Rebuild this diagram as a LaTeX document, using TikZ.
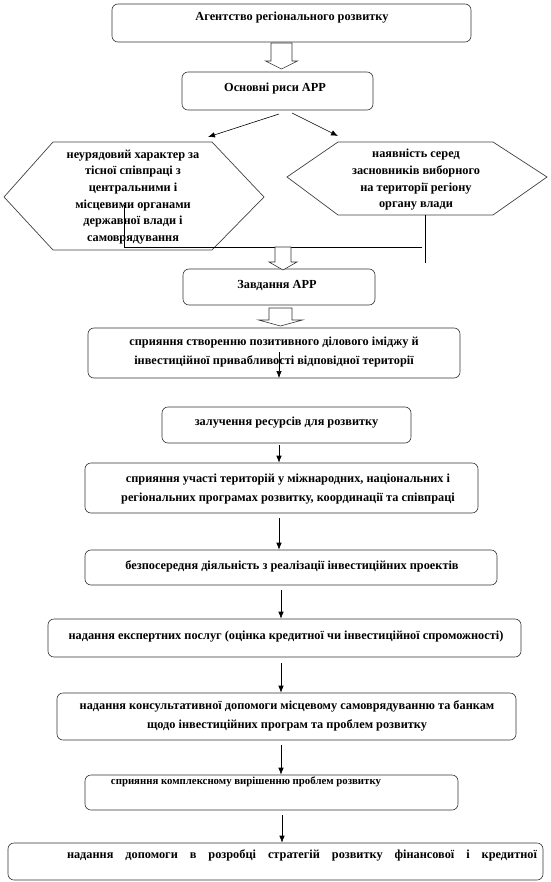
\documentclass[tikz,border=0pt]{standalone}
\usepackage{fontspec}
\setmainfont{Liberation Serif}
\usetikzlibrary{arrows.meta,calc}
\newcommand{\blockarr}[6]{% cx, ytop, yhead, ytip, shaft half, head half
  \draw[hollow] ({#1-#5},#2) -- ({#1-#5},#3) -- ({#1-#6},#3) -- (#1,#4) -- ({#1+#6},#3) -- ({#1+#5},#3) -- ({#1+#5},#2) -- cycle;}
\begin{document}
\begin{tikzpicture}[x=1pt,y=-1pt,
  box/.style={draw=black!80, line width=0.6pt, rounded corners=6pt, inner sep=0pt},
  hexs/.style={draw=black!75, line width=0.7pt},
  txt/.style={font=\fontsize{12.3}{18.5}\selectfont\bfseries, align=center, inner sep=0pt},
  htxt/.style={font=\fontsize{12.3}{16.7}\selectfont\bfseries, align=center, inner sep=0pt},
  hollow/.style={draw=black!80, line width=0.6pt, fill=white},
  arr/.style={-{Latex[length=7pt,width=5.5pt]}, line width=0.6pt},
  conn/.style={line width=0.6pt}]
\useasboundingbox (0,0) rectangle (550,882);

% boxes
\node[box, minimum width=359pt, minimum height=38pt] (b1) at (291.5,23) {};
\node[txt] (t1) at (292,18) {Агентство регіонального розвитку};
\node[box, minimum width=191pt, minimum height=38pt] (b2) at (277.5,91) {};
\node[txt] (t2) at (275,89) {Основні риси АРР};
\node[box, minimum width=192pt, minimum height=36pt] (b5) at (279,287) {};
\node[txt] (t5) at (277,285) {Завдання АРР};
\node[box, minimum width=372pt, minimum height=50pt] (b6) at (274,353) {};
\node[txt] (t6) at (274,352) {сприяння створенню позитивного ділового іміджу й\\ інвестиційної привабливості відповідної території};
\node[box, minimum width=249pt, minimum height=36pt] (b7) at (286.5,425) {};
\node[txt] (t7) at (286.5,423) {залучення ресурсів для розвитку};
\node[box, minimum width=393pt, minimum height=50pt] (b8) at (281.5,488) {};
\node[txt] (t8) at (288,489) {сприяння участі територій у міжнародних, національних і\\ регіональних програмах розвитку, координації та співпраці};
\node[box, minimum width=412pt, minimum height=35pt] (b9) at (291,567.5) {};
\node[txt] (t9) at (292,566) {безпосередня діяльність з реалізації інвестиційних проектів};
\node[box, minimum width=473pt, minimum height=38pt] (b10) at (284.5,638) {};
\node[txt] (t10) at (286,637) {надання експертних послуг (оцінка кредитної чи інвестиційної спроможності)};
\node[box, minimum width=459pt, minimum height=47pt] (b11) at (286.5,716.5) {};
\node[txt] (t11) at (287,716) {надання консультативної допомоги місцевому самоврядуванню та банкам\\ щодо інвестиційних програм та проблем розвитку};
\node[box, minimum width=373pt, minimum height=35pt] (b12) at (271.5,792.5) {};
\node[txt, font=\fontsize{10.8}{14}\selectfont\bfseries] (t12) at (246,782) {сприяння комплексному вирішенню проблем розвитку};
\node[box, minimum width=535pt, minimum height=37pt] (b13) at (275.5,861.5) {};
\node[txt] (t13) at (302,855) {\makebox[470pt][s]{надання допомоги в розробці стратегій розвитку фінансової і кредитної}};

% hexagons
\draw[hexs] (4,197) -- (53,142) -- (212,142) -- (264,197) -- (212,250) -- (53,250) -- cycle;
\node[htxt] (h1) at (133,197) {неурядовий характер за\\ тісної співпраці з\\ центральними і\\ місцевими органами\\ державної влади і\\ самоврядування};
\draw[hexs] (287,177) -- (338,142) -- (493,142) -- (547,177) -- (493,215) -- (338,215) -- cycle;
\node[htxt] (h2) at (416,180) {наявність серед\\ засновників виборного\\ на території регіону\\ органу влади};

% arrows to hexagons
\coordinate (hl) at (208,137);
\coordinate (hr) at (338,136);
\draw[arr] (279,114) -- (hl);
\draw[arr] (292,113) -- (hr);

% connector lines
\coordinate (c1) at (124,205);
\coordinate (c2) at (124,247);
\coordinate (c3) at (422,247);
\coordinate (c4) at (425,215);
\coordinate (c5) at (425,263);
\draw[conn] (c1) -- (c2) -- (c3);
\draw[conn] (c4) -- (c5);

% block arrows
\blockarr{281.5}{43}{61}{69}{10.5}{16}
\blockarr{283}{247}{262}{270}{8}{14}
\blockarr{280.5}{308}{320}{326}{11.5}{22}

% small arrows
\draw[arr] (279,352) -- (279,378);
\draw[arr] (b7.south -| 279,0) ++(0,2) -- (b8.north -| 279,0);
\draw[arr] (279,518) -- (b9.north -| 279,0);
\draw[arr] (281,590) -- (b10.north -| 281,0);
\draw[arr] (281,663) -- (b11.north -| 281,0);
\draw[arr] (281,745) -- (b12.north -| 281,0);
\draw[arr] (282,815) -- (b13.north -| 282,0);
\end{tikzpicture}
\end{document}
